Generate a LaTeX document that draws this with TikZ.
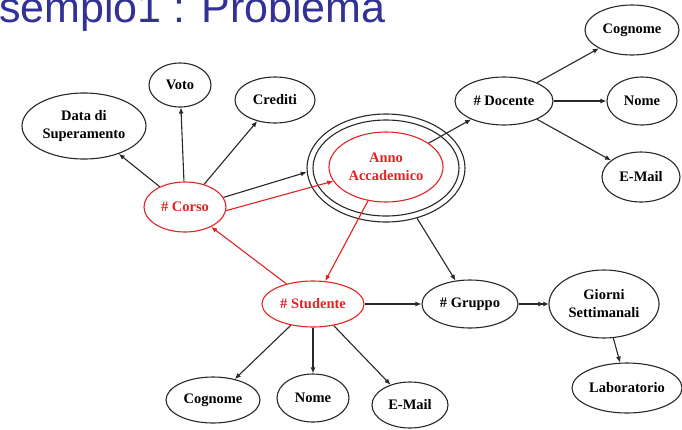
\documentclass[tikz,border=0pt]{standalone}
\usepackage{fontspec}
\setmainfont{Liberation Serif}
\newfontfamily\titlefont{Liberation Sans}
\usetikzlibrary{shapes.geometric,arrows.meta}
\definecolor{tblue}{RGB}{50,50,150}
\definecolor{ered}{RGB}{225,35,35}
\definecolor{eline}{RGB}{40,40,40}
\begin{document}
\begin{tikzpicture}[x=1pt,y=-1pt,
 ent/.style={ellipse,draw=eline,line width=1.1pt,inner sep=0pt,align=center,font=\fontsize{14.5}{18}\selectfont\bfseries},
 key/.style={ent,draw=ered,text=ered},
 ring/.style={ellipse,draw=eline,line width=1.1pt,inner sep=0pt},
 arr/.style={draw=eline,line width=1.1pt,-{Latex[length=6pt,width=5pt]}},
 rarr/.style={arr,draw=ered},
 darr/.style={arr,-{Latex[length=5pt,width=5pt]Latex[length=5pt,width=5pt]}},
 sz/.style 2 args={minimum width=#1,minimum height=#2}]
\useasboundingbox (0,0) rectangle (682,429);
\fill[white] (0,0) rectangle (682,429);
\node[anchor=base west,inner sep=0pt,text=tblue,font=\titlefont\fontsize{43}{43}\selectfont] (title) at (-1,22) {sempio1 : Problema};
% nodes
\node[ent,sz={124}{66}] (data) at (84,126) {Data di\\Superamento};
\node[ent,sz={62}{44}] (voto) at (180,85) {Voto};
\node[ent,sz={80}{46}] (crediti) at (275,100) {Crediti};
\node[key,sz={82}{50}] (corso) at (185,207) {\# Corso};
\node[key,sz={114}{70}] (anno) at (386,167) {Anno\\Accademico};
\node[ring,sz={146}{96}] (annoM) at (386,168) {};
\node[ring,sz={158}{108}] (annoO) at (386,168) {};
\node[ent,sz={98}{48}] (docente) at (504,101) {\# Docente};
\node[ent,sz={94}{50}] (cognD) at (632,30) {Cognome};
\node[ent,sz={70}{48}] (nomeD) at (642,101) {Nome};
\node[ent,sz={78}{50}] (mailD) at (641,177) {E-Mail};
\node[key,sz={102}{46}] (studente) at (313,304) {\# Studente};
\node[ent,sz={94}{46}] (cognS) at (213,400) {Cognome};
\node[ent,sz={72}{48}] (nomeS) at (313,398) {Nome};
\node[ent,sz={76}{46}] (mailS) at (410,405) {E-Mail};
\node[ent,sz={96}{48}] (gruppo) at (470,304) {\# Gruppo};
\node[ent,sz={110}{68}] (giorni) at (604,304) {Giorni\\Settimanali};
\node[ent,sz={110}{50}] (lab) at (627,388) {Laboratorio};
% edges
\draw[arr] (corso) -- (data);
\draw[arr] (corso) -- (voto);
\draw[arr] (corso) -- (crediti);
\draw[arr] (corso.14) -- (annoO.183);
\draw[rarr] (corso.355) -- (anno.195);
\draw[arr] (anno) -- (docente);
\draw[rarr] (anno) -- (studente);
\draw[arr] (annoO) -- (gruppo);
\draw[rarr] (studente) -- (corso);
\draw[arr] (studente) -- (gruppo);
\draw[arr] (studente) -- (cognS);
\draw[arr] (studente) -- (nomeS);
\draw[arr] (studente) -- (mailS);
\draw[arr] (docente) -- (cognD);
\draw[arr] (docente) -- (nomeD);
\draw[arr] (docente) -- (mailD);
\draw[darr] (gruppo) -- (giorni);
\draw[arr] (giorni) -- (lab);
\end{tikzpicture}
\end{document}
